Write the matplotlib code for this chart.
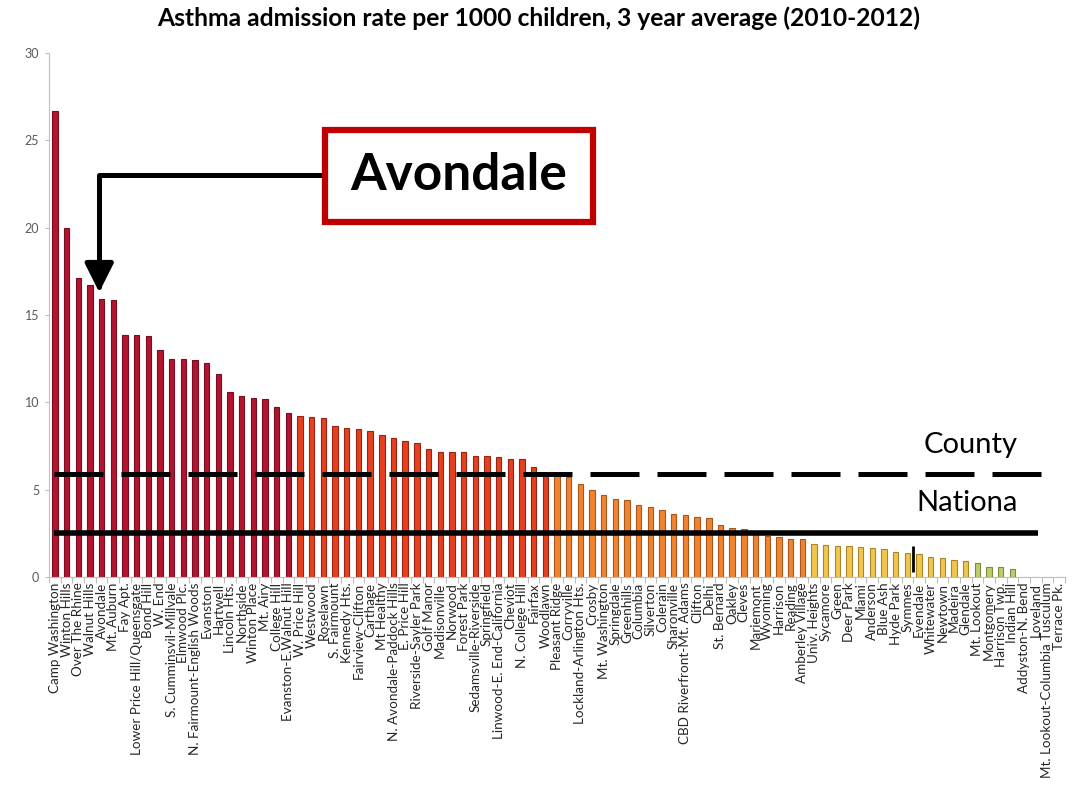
import matplotlib
matplotlib.use('Agg')
import matplotlib.pyplot as plt
from matplotlib.patches import Rectangle
import numpy as np

plt.rcParams['font.family'] = ['Lato', 'DejaVu Sans']

# admission rate per 1000 children, 3 year average (2010-2012)
neighborhoods = [
    'Camp Washington', 'Winton Hills', 'Over The Rhine', 'Walnut Hills',
    'Avondale', 'Mt. Auburn', 'Fay Apt.', 'Lower Price Hill/Queensgate',
    'Bond Hill', 'W. End', 'S. Cumminsvil-Millvale', 'Elmwood Plc.',
    'N. Fairmount-English Woods', 'Evanston', 'Hartwell', 'Lincoln Hts.',
    'Northside', 'Winton Place', 'Mt. Airy', 'College Hill',
    'Evanston-E.Walnut Hill', 'W. Price Hill', 'Westwood', 'Roselawn',
    'S. Fairmount', 'Kennedy Hts.', 'Fairview-Clifton', 'Carthage',
    'Mt Healthy', 'N. Avondale-Paddock Hills', 'E. Price Hill',
    'Riverside-Sayler Park', 'Golf Manor', 'Madisonville', 'Norwood',
    'Forest Park', 'Sedamsville-Riverside', 'Springfield',
    'Linwood-E. End-California', 'Cheviot', 'N. College Hill', 'Fairfax',
    'Woodlawn', 'Pleasant Ridge', 'Corryville', 'Lockland-Arlington Hts.',
    'Crosby', 'Mt. Washington', 'Springdale', 'Greenhills', 'Columbia',
    'Silverton', 'Colerain', 'Sharonville', 'CBD Riverfront-Mt. Adams',
    'Clifton', 'Delhi', 'St. Bernard', 'Oakley', 'Cleves', 'Mariemont',
    'Wyoming', 'Harrison', 'Reading', 'Amberley Village', 'Univ. Heights',
    'Sycamore', 'Green', 'Deer Park', 'Miami', 'Anderson', 'Blue Ash',
    'Hyde Park', 'Symmes', 'Evendale', 'Whitewater', 'Newtown', 'Madeira',
    'Glendale', 'Mt. Lookout', 'Montgomery', 'Harrison Twp.', 'Indian Hill',
    'Addyston-N. Bend', 'Loveland', 'Mt. Lookout-Columbia Tusculum',
    'Terrace Pk.',
]
rates = [
    26.7, 20.0, 17.1, 16.7, 15.9, 15.85, 13.85, 13.85, 13.8, 13.0,
    12.5, 12.5, 12.45, 12.25, 11.65, 10.6, 10.35, 10.25, 10.2, 9.75,
    9.4, 9.2, 9.15, 9.1, 8.65, 8.55, 8.5, 8.35, 8.15, 7.95,
    7.8, 7.65, 7.35, 7.15, 7.15, 7.15, 6.95, 6.9, 6.85, 6.75,
    6.75, 6.3, 5.95, 5.85, 5.7, 5.35, 5.0, 4.7, 4.45, 4.4,
    4.15, 4.0, 3.85, 3.6, 3.55, 3.45, 3.4, 2.95, 2.8, 2.75,
    2.45, 2.35, 2.3, 2.2, 2.15, 1.9, 1.85, 1.75, 1.75, 1.7,
    1.65, 1.6, 1.45, 1.4, 1.3, 1.15, 1.1, 0.95, 0.9, 0.8,
    0.6, 0.55, 0.45, 0.0, 0.0, 0.0, 0.0,
]
county_rate = 5.9
national_rate = 2.5
highlight = 'Avondale'
title = 'Asthma admission rate per 1000 children, 3 year average (2010-2012)'

# colour bands by rank: (first index, face, edge)
bands = [
    (0, '#b3142f', '#7a0c1f'),
    (21, '#e6401f', '#9a2414'),
    (43, '#f3842f', '#a9561a'),
    (65, '#f2c64c', '#a8872c'),
    (79, '#bccd6a', '#7d893e'),
]
faces = []
edges = []
for i in range(len(rates)):
    band = [b for b in bands if b[0] <= i][-1]
    faces.append(band[1])
    edges.append(band[2])

W, H = 1077, 787
fig = plt.figure(figsize=(W / 100, H / 100), dpi=100)
ax = fig.add_axes([49 / W, 1 - 577 / H, (1065 - 49) / W, (577 - 53) / H])

x = np.arange(len(rates))
ax.bar(x, rates, width=0.46, color=faces, edgecolor=edges, linewidth=0.8,
       zorder=2)

ax.set_xlim(-0.5, len(rates) - 0.5)
ax.set_ylim(0, 30)
ax.set_yticks(range(0, 31, 5))
ax.tick_params(axis='y', labelsize=9, length=3, width=0.8, pad=4,
               colors='#bfbfbf', labelcolor='#595959')
ax.set_xticks(x)
ax.set_xticklabels(neighborhoods, rotation=90, fontsize=9.7,
                   color='#262626')
ax.tick_params(axis='x', length=0, pad=4)
ax.set_xticks(np.arange(-0.5, len(rates), 1.0), minor=True)
ax.tick_params(axis='x', which='minor', length=4, color='#bfbfbf',
               width=0.8)
for side in ('top', 'right'):
    ax.spines[side].set_visible(False)
ax.spines['left'].set_color('#bfbfbf')
ax.spines['bottom'].set_color('#bfbfbf')

# reference lines
ax.hlines(county_rate, -0.1, 84.5, colors='black', linewidth=3.6,
          linestyles=(0, (9.8, 3.6)), capstyle='butt', zorder=3)
ax.hlines(national_rate, -0.1, 84.2, colors='black', linewidth=4.0,
          zorder=3)
ax.text(78.4, county_rate + 1.2, 'County', fontsize=21, ha='center',
        va='baseline', color='black')
ax.text(78.1, national_rate + 1.28, 'Nationa', fontsize=21, ha='center',
        va='baseline', color='black')

# stray mark over Symmes
sym = neighborhoods.index('Symmes')
ax.vlines(sym + 0.45, 0.3, 1.75, colors='black', linewidth=2, zorder=3)

# callout box and elbow arrow to the highlighted bar
bx0, bx1 = 325 / W, 593 / W
by0, by1 = 1 - 222 / H, 1 - 130 / H
fig.add_artist(Rectangle((bx0, by0), bx1 - bx0, by1 - by0,
                         transform=fig.transFigure, facecolor='white',
                         edgecolor='#c00000', linewidth=4.5, zorder=5))
fig.text((bx0 + bx1) / 2, (by0 + by1) / 2, highlight, fontsize=37,
         fontweight='bold', ha='center', va='center', zorder=6)
hi = neighborhoods.index(highlight)
ax.annotate('', xy=(hi - 0.2, rates[hi] + 0.4), xycoords='data',
            xytext=(bx0, 1 - 175 / H), textcoords='figure fraction',
            arrowprops=dict(arrowstyle='-|>,head_length=0.7,head_width=0.35',
                            connectionstyle='angle,angleA=0,angleB=90,rad=0',
                            color='black', linewidth=3.6, mutation_scale=25,
                            shrinkA=0, shrinkB=0),
            zorder=4, annotation_clip=False)

fig.text(0.5, 1 - 18 / H, title, fontsize=17.7, fontweight='bold',
         ha='center', va='center')

fig.savefig('out.png', dpi=100)
